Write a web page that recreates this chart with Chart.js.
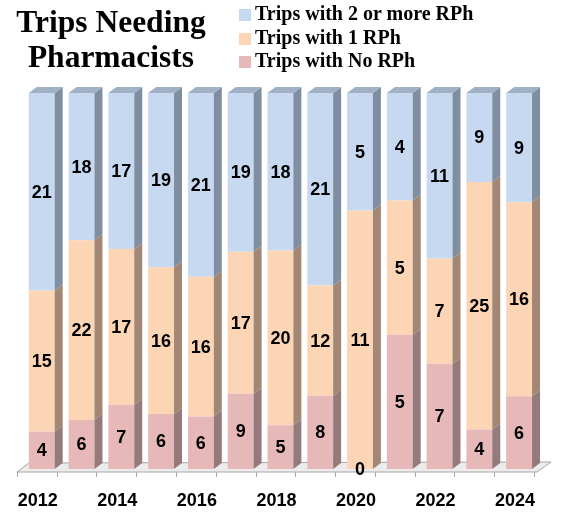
<!DOCTYPE html>
<html>
<head>
<meta charset="utf-8">
<script src="https://cdn.jsdelivr.net/npm/chart.js@4.4.1/dist/chart.umd.min.js"></script>
<style>
  body { margin: 0; background: #fff; }
  #wrap { position: relative; width: 563px; height: 515px; }
  #grafico { position: absolute; left: 0; top: 0; }
  #titulo { position: absolute; left: 0; top: 4px; width: 222px; text-align: center;
            font: bold 31.5px "Liberation Serif"; line-height: 35px; color: #000; }
  #legenda { position: absolute; left: 239px; top: 2px;
             font: bold 20px "Liberation Serif"; line-height: 23.5px; color: #000; }
  #legenda .quad { display: inline-block; width: 12px; height: 12px; margin-right: 4px; vertical-align: -1px; }
</style>
</head>
<body>
<div id="wrap">
  <canvas id="grafico" width="563" height="515"></canvas>
  <div id="titulo">Trips Needing<br>Pharmacists</div>
  <div id="legenda"></div>
</div>
<script>
const anos = ['2012', '2013', '2014', '2015', '2016', '2017', '2018', '2019', '2020', '2021', '2022', '2023', '2024'];
const semRPh = [4, 6, 7, 6, 6, 9, 5, 8, 0, 5, 7, 4, 6];
const umRPh = [15, 22, 17, 16, 16, 17, 20, 12, 11, 5, 7, 25, 16];
const doisOuMais = [21, 18, 17, 19, 21, 19, 18, 21, 5, 4, 11, 9, 9];

const cores = {
  semRPh: { frente: '#e6b9b8', lado: '#957a7b' },
  umRPh: { frente: '#fcd5b5', lado: '#a28774' },
  doisOuMais: { frente: '#c6d9f1', lado: '#7f8fa1', topo: '#a0b1c5' }
};

// barras em 100%: cada serie vira percentual do total do ano
const totais = anos.map((a, i) => semRPh[i] + umRPh[i] + doisOuMais[i]);
function porcentagem(serie) {
  return serie.map((v, i) => v / totais[i] * 100);
}

const series = [
  { label: 'Trips with No RPh', valores: semRPh, cor: cores.semRPh },
  { label: 'Trips with 1 RPh', valores: umRPh, cor: cores.umRPh },
  { label: 'Trips with 2 or more RPh', valores: doisOuMais, cor: cores.doisOuMais }
];

// legenda em html (ordem inversa, como no original)
const legenda = document.getElementById('legenda');
series.slice().reverse().forEach(s => {
  const linha = document.createElement('div');
  linha.innerHTML = `<span class="quad" style="background:${s.cor.frente}"></span>${s.label}`;
  legenda.appendChild(linha);
});

const DX = 8, DY = 6;

const efeito3D = {
  id: 'efeito3D',
  beforeDatasetsDraw(chart) {
    const ctx = chart.ctx;
    const xs = chart.scales.x;
    const esq = xs.left - 5;
    const passo = (xs.right - xs.left) / anos.length;
    const dir = esq + passo * anos.length + 3;
    const yb = chart.chartArea.bottom + 3;
    ctx.save();
    // piso
    ctx.beginPath();
    ctx.moveTo(esq, yb);
    ctx.lineTo(esq + 12, yb - 9);
    ctx.lineTo(dir + 14, yb - 10);
    ctx.lineTo(dir, yb);
    ctx.closePath();
    ctx.fillStyle = '#ececec';
    ctx.fill();
    ctx.strokeStyle = '#a6a6a6';
    ctx.lineWidth = 1;
    ctx.stroke();
    // marcas do eixo
    ctx.beginPath();
    for (let k = 0; k <= anos.length; k++) {
      const x = Math.round(esq + k * passo) + 0.5;
      ctx.moveTo(x, yb);
      ctx.lineTo(x, yb + 5);
    }
    ctx.stroke();
    ctx.restore();
  },
  afterDatasetsDraw(chart) {
    const ctx = chart.ctx;
    ctx.save();
    chart.data.datasets.forEach((ds, d) => {
      const meta = chart.getDatasetMeta(d);
      meta.data.forEach((el, i) => {
        const { x, y, base, width } = el.getProps(['x', 'y', 'base', 'width'], true);
        const esq = x - width / 2;
        const dir = x + width / 2;
        if (base - y > 0.3) {
          ctx.beginPath();
          ctx.moveTo(dir, y);
          ctx.lineTo(dir + DX, y - DY);
          ctx.lineTo(dir + DX, base - DY);
          ctx.lineTo(dir, base);
          ctx.closePath();
          ctx.fillStyle = series[d].cor.lado;
          ctx.fill();
        }
        if (d === chart.data.datasets.length - 1) {
          ctx.beginPath();
          ctx.moveTo(esq, y);
          ctx.lineTo(esq + DX, y - DY);
          ctx.lineTo(dir + DX, y - DY);
          ctx.lineTo(dir, y);
          ctx.closePath();
          ctx.fillStyle = series[d].cor.topo;
          ctx.fill();
        }
      });
    });
    // rotulos de valores
    ctx.font = 'bold 18px "Liberation Sans"';
    ctx.fillStyle = '#000';
    ctx.textAlign = 'center';
    ctx.textBaseline = 'middle';
    chart.data.datasets.forEach((ds, d) => {
      const meta = chart.getDatasetMeta(d);
      meta.data.forEach((el, i) => {
        const { x, y, base } = el.getProps(['x', 'y', 'base'], true);
        ctx.fillText(String(series[d].valores[i]), x, (y + base) / 2 + 1);
      });
    });
    ctx.restore();
  }
};

new Chart(document.getElementById('grafico'), {
  type: 'bar',
  data: {
    labels: anos,
    datasets: series.map(s => ({
      label: s.label,
      data: porcentagem(s.valores),
      backgroundColor: s.cor.frente,
      borderWidth: 0,
      barPercentage: 0.65,
      categoryPercentage: 1.0
    }))
  },
  options: {
    responsive: false,
    animation: false,
    layout: { padding: { left: 19, right: 24, top: 93, bottom: 0 } },
    plugins: {
      legend: { display: false },
      title: { display: false },
      tooltip: { enabled: false }
    },
    scales: {
      x: {
        stacked: true,
        grid: { display: false, drawTicks: false },
        border: { display: false },
        afterFit: scale => { scale.height = 46; },
        ticks: {
          autoSkip: false,
          maxRotation: 0,
          padding: 21,
          labelOffset: -4,
          color: '#000',
          font: { family: 'Liberation Sans', size: 18, weight: 'bold' },
          callback: (v, i) => (i % 2 === 0 ? anos[i] : '')
        }
      },
      y: { stacked: true, display: false, min: 0, max: 100 }
    }
  },
  plugins: [efeito3D]
});
</script>
</body>
</html>
